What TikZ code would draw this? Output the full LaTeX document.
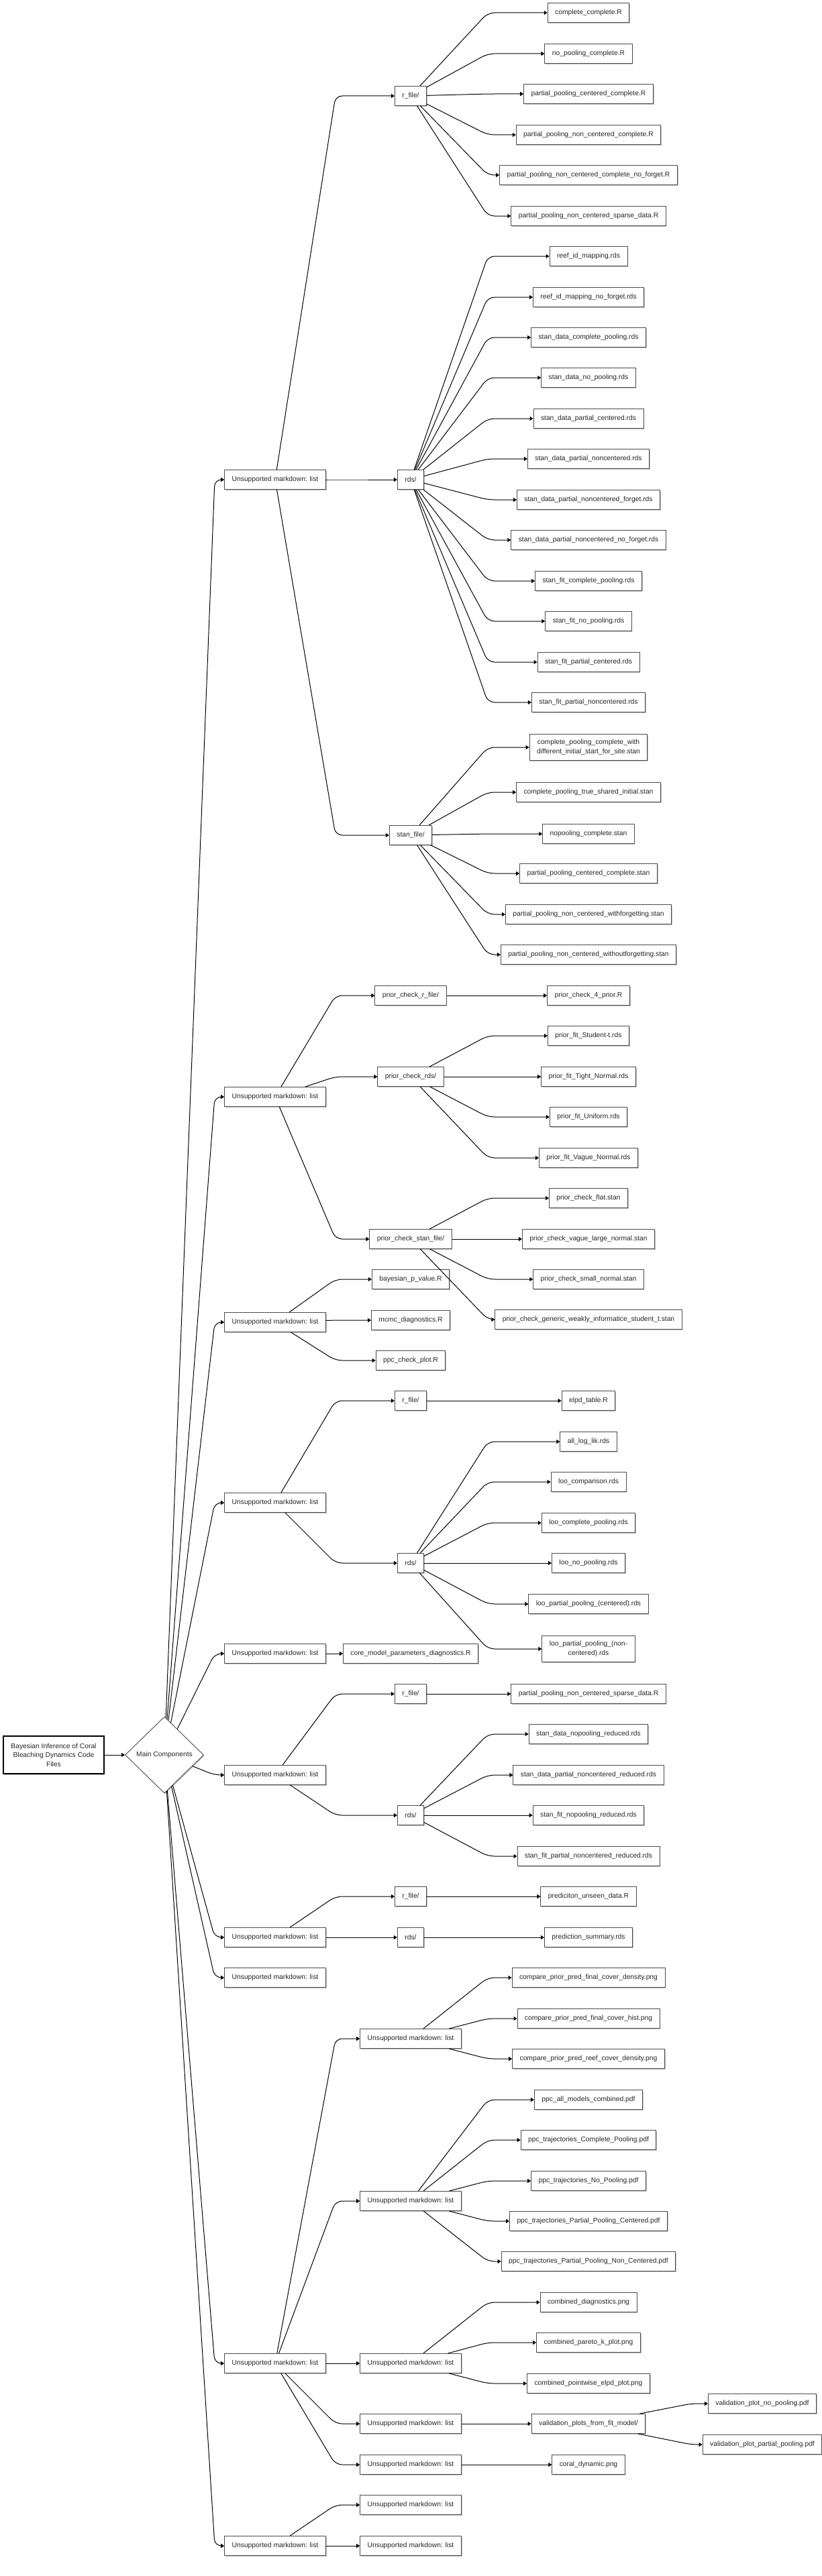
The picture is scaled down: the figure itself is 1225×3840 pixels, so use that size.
\documentclass[tikz,border=0pt]{standalone}
\usepackage{fontspec}
\setmainfont{Liberation Sans}
\usetikzlibrary{shapes.geometric,arrows.meta,shadows,calc}
\newcommand\lnk[3]{\draw[edge] (#1) -- (#2.west -| #3) -- (#2.west);}
\newcommand\bx[4]{\node[box] (#1) at (#2,#3) {#4};}
\begin{document}
\begin{tikzpicture}[x=1pt,y=-1pt,
  box/.style={draw=black!70, fill=white, line width=0.9pt, minimum height=29pt,
    inner xsep=11pt, inner ysep=8pt, align=center, text=black!85,
    font=\fontsize{10.3}{13.5}\selectfont,
    drop shadow={shadow xshift=1.2pt, shadow yshift=-1.5pt, opacity=0.25, fill=black}},
  rootbox/.style={box, draw=black, line width=2pt, minimum width=149pt, minimum height=56pt},
  decision/.style={diamond, draw=black!70, fill=white, line width=0.9pt, aspect=1,
    minimum width=117pt, minimum height=114pt, inner sep=0pt, text=black!85,
    font=\fontsize{10.3}{13.5}\selectfont,
    drop shadow={shadow xshift=1.2pt, shadow yshift=-1.5pt, opacity=0.25, fill=black}},
  edge/.style={draw=black, line width=1pt, rounded corners=10pt, -{Triangle[length=5pt,width=6pt]}},
]
\useasboundingbox (0,0) rectangle (1225,3840);
\coordinate (k1b) at (320,0);
\coordinate (k2b) at (500,0);
\coordinate (k3b) at (727,0);
\coordinate (k4b) at (1030,0);

% root and decision
\node[rootbox] (root) at (80,2616) {Bayesian Inference of Coral\\Bleaching Dynamics Code\\Files};
\node[decision] (main) at (245,2616) {Main Components};

% level 1
\bx{g1}{410}{715}{Unsupported markdown: list}
\bx{g2}{410}{1635}{Unsupported markdown: list}
\bx{g3}{410}{1971}{Unsupported markdown: list}
\bx{g4}{410}{2240}{Unsupported markdown: list}
\bx{g5}{410}{2465}{Unsupported markdown: list}
\bx{g6}{410}{2646}{Unsupported markdown: list}
\bx{g7}{410}{2888}{Unsupported markdown: list}
\bx{g8}{410}{2948}{Unsupported markdown: list}
\bx{g9}{410}{3523}{Unsupported markdown: list}
\bx{g10}{410}{3795}{Unsupported markdown: list}

% level 2
\bx{g1r}{612}{143}{r\_file/}
\bx{g1d}{612}{715}{rds/}
\bx{g1s}{612}{1245}{stan\_file/}
\bx{g2r}{612}{1484}{prior\_check\_r\_file/}
\bx{g2d}{612}{1605}{prior\_check\_rds/}
\bx{g2s}{612}{1847}{prior\_check\_stan\_file/}
\bx{e1}{612}{1907}{bayesian\_p\_value.R}
\bx{e2}{612}{1968}{mcmc\_diagnostics.R}
\bx{e3}{612}{2028}{ppc\_check\_plot.R}
\bx{g4r}{612}{2088}{r\_file/}
\bx{g4d}{612}{2330}{rds/}
\bx{h1}{612}{2465}{core\_model\_parameters\_diagnostics.R}
\bx{g6r}{612}{2525}{r\_file/}
\bx{g6d}{612}{2706}{rds/}
\bx{g7r}{612}{2827}{r\_file/}
\bx{g7d}{612}{2888}{rds/}
\bx{ua}{612}{3039}{Unsupported markdown: list}
\bx{ub}{612}{3281}{Unsupported markdown: list}
\bx{uc}{612}{3523}{Unsupported markdown: list}
\bx{ud}{612}{3613}{Unsupported markdown: list}
\bx{ue}{612}{3674}{Unsupported markdown: list}
\bx{uf}{612}{3734}{Unsupported markdown: list}
\bx{ug}{612}{3795}{Unsupported markdown: list}

% level 3
\bx{a1}{877}{19}{complete\_complete.R}
\bx{a2}{877}{80}{no\_pooling\_complete.R}
\bx{a3}{877}{140}{partial\_pooling\_centered\_complete.R}
\bx{a4}{877}{201}{partial\_pooling\_non\_centered\_complete.R}
\bx{a5}{877}{261}{partial\_pooling\_non\_centered\_complete\_no\_forget.R}
\bx{a6}{877}{322}{partial\_pooling\_non\_centered\_sparse\_data.R}
\bx{b01}{877}{382}{reef\_id\_mapping.rds}
\bx{b02}{877}{443}{reef\_id\_mapping\_no\_forget.rds}
\bx{b03}{877}{503}{stan\_data\_complete\_pooling.rds}
\bx{b04}{877}{563}{stan\_data\_no\_pooling.rds}
\bx{b05}{877}{624}{stan\_data\_partial\_centered.rds}
\bx{b06}{877}{684}{stan\_data\_partial\_noncentered.rds}
\bx{b07}{877}{745}{stan\_data\_partial\_noncentered\_forget.rds}
\bx{b08}{877}{805}{stan\_data\_partial\_noncentered\_no\_forget.rds}
\bx{b09}{877}{866}{stan\_fit\_complete\_pooling.rds}
\bx{b10}{877}{926}{stan\_fit\_no\_pooling.rds}
\bx{b11}{877}{987}{stan\_fit\_partial\_centered.rds}
\bx{b12}{877}{1047}{stan\_fit\_partial\_noncentered.rds}
\bx{c1}{877}{1114}{complete\_pooling\_complete\_with\\different\_initial\_start\_for\_site.stan}
\bx{c2}{877}{1181}{complete\_pooling\_true\_shared\_initial.stan}
\bx{c3}{877}{1243}{nopooling\_complete.stan}
\bx{c4}{877}{1302}{partial\_pooling\_centered\_complete.stan}
\bx{c5}{877}{1363}{partial\_pooling\_non\_centered\_withforgetting.stan}
\bx{c6}{877}{1423}{partial\_pooling\_non\_centered\_withoutforgetting.stan}
\bx{d1}{877}{1484}{prior\_check\_4\_prior.R}
\bx{d2}{877}{1544}{prior\_fit\_Student-t.rds}
\bx{d3}{877}{1605}{prior\_fit\_Tight\_Normal.rds}
\bx{d4}{877}{1665}{prior\_fit\_Uniform.rds}
\bx{d5}{877}{1726}{prior\_fit\_Vague\_Normal.rds}
\bx{d6}{877}{1786}{prior\_check\_flat.stan}
\bx{d7}{877}{1847}{prior\_check\_vague\_large\_normal.stan}
\bx{d8}{877}{1907}{prior\_check\_small\_normal.stan}
\bx{d9}{877}{1967}{prior\_check\_generic\_weakly\_informatice\_student\_t.stan}
\bx{f1}{877}{2088}{elpd\_table.R}
\bx{f2}{877}{2149}{all\_log\_lik.rds}
\bx{f3}{877}{2209}{loo\_comparison.rds}
\bx{f4}{877}{2270}{loo\_complete\_pooling.rds}
\bx{f5}{877}{2330}{loo\_no\_pooling.rds}
\bx{f6}{877}{2391}{loo\_partial\_pooling\_(centered).rds}
\bx{f7}{877}{2458}{loo\_partial\_pooling\_(non-\\centered).rds}
\bx{i1}{877}{2525}{partial\_pooling\_non\_centered\_sparse\_data.R}
\bx{i2}{877}{2585}{stan\_data\_nopooling\_reduced.rds}
\bx{i3}{877}{2646}{stan\_data\_partial\_noncentered\_reduced.rds}
\bx{i4}{877}{2706}{stan\_fit\_nopooling\_reduced.rds}
\bx{i5}{877}{2767}{stan\_fit\_partial\_noncentered\_reduced.rds}
\bx{j1}{877}{2827}{prediciton\_unseen\_data.R}
\bx{j2}{877}{2888}{prediction\_summary.rds}
\bx{k1}{877}{2948}{compare\_prior\_pred\_final\_cover\_density.png}
\bx{k2}{877}{3009}{compare\_prior\_pred\_final\_cover\_hist.png}
\bx{k3}{877}{3069}{compare\_prior\_pred\_reef\_cover\_density.png}
\bx{l1}{877}{3130}{ppc\_all\_models\_combined.pdf}
\bx{l2}{877}{3190}{ppc\_trajectories\_Complete\_Pooling.pdf}
\bx{l3}{877}{3251}{ppc\_trajectories\_No\_Pooling.pdf}
\bx{l4}{877}{3311}{ppc\_trajectories\_Partial\_Pooling\_Centered.pdf}
\bx{l5}{877}{3371}{ppc\_trajectories\_Partial\_Pooling\_Non\_Centered.pdf}
\bx{m1}{877}{3432}{combined\_diagnostics.png}
\bx{m2}{877}{3492}{combined\_pareto\_k\_plot.png}
\bx{m3}{877}{3553}{combined\_pointwise\_elpd\_plot.png}
\bx{vf}{877}{3613}{validation\_plots\_from\_fit\_model/}
\bx{n1}{877}{3674}{coral\_dynamic.png}

% level 4
\bx{v1}{1136}{3583}{validation\_plot\_no\_pooling.pdf}
\bx{v2}{1136}{3644}{validation\_plot\_partial\_pooling.pdf}

% edges
\draw[edge] (root) -- (main);
\foreach \t in {g1,g2,g3,g4,g5,g6,g7,g8,g9,g10} {\lnk{main}{\t}{k1b}}

\foreach \t in {g1r,g1d,g1s} {\lnk{g1}{\t}{k2b}}
\foreach \t in {g2r,g2d,g2s} {\lnk{g2}{\t}{k2b}}
\foreach \t in {e1,e2,e3} {\lnk{g3}{\t}{k2b}}
\foreach \t in {g4r,g4d} {\lnk{g4}{\t}{k2b}}
\lnk{g5}{h1}{k2b}
\foreach \t in {g6r,g6d} {\lnk{g6}{\t}{k2b}}
\foreach \t in {g7r,g7d} {\lnk{g7}{\t}{k2b}}
\foreach \t in {ua,ub,uc,ud,ue} {\lnk{g9}{\t}{k2b}}
\foreach \t in {uf,ug} {\lnk{g10}{\t}{k2b}}

\foreach \t in {a1,a2,a3,a4,a5,a6} {\lnk{g1r}{\t}{k3b}}
\foreach \t in {b01,b02,b03,b04,b05,b06,b07,b08,b09,b10,b11,b12} {\lnk{g1d}{\t}{k3b}}
\foreach \t in {c1,c2,c3,c4,c5,c6} {\lnk{g1s}{\t}{k3b}}
\lnk{g2r}{d1}{k3b}
\foreach \t in {d2,d3,d4,d5} {\lnk{g2d}{\t}{k3b}}
\foreach \t in {d6,d7,d8,d9} {\lnk{g2s}{\t}{k3b}}
\lnk{g4r}{f1}{k3b}
\foreach \t in {f2,f3,f4,f5,f6,f7} {\lnk{g4d}{\t}{k3b}}
\lnk{g6r}{i1}{k3b}
\foreach \t in {i2,i3,i4,i5} {\lnk{g6d}{\t}{k3b}}
\lnk{g7r}{j1}{k3b}
\lnk{g7d}{j2}{k3b}
\foreach \t in {k1,k2,k3} {\lnk{ua}{\t}{k3b}}
\foreach \t in {l1,l2,l3,l4,l5} {\lnk{ub}{\t}{k3b}}
\foreach \t in {m1,m2,m3} {\lnk{uc}{\t}{k3b}}
\lnk{ud}{vf}{k3b}
\lnk{ue}{n1}{k3b}
\foreach \t in {v1,v2} {\lnk{vf}{\t}{k4b}}
\end{tikzpicture}
\end{document}
